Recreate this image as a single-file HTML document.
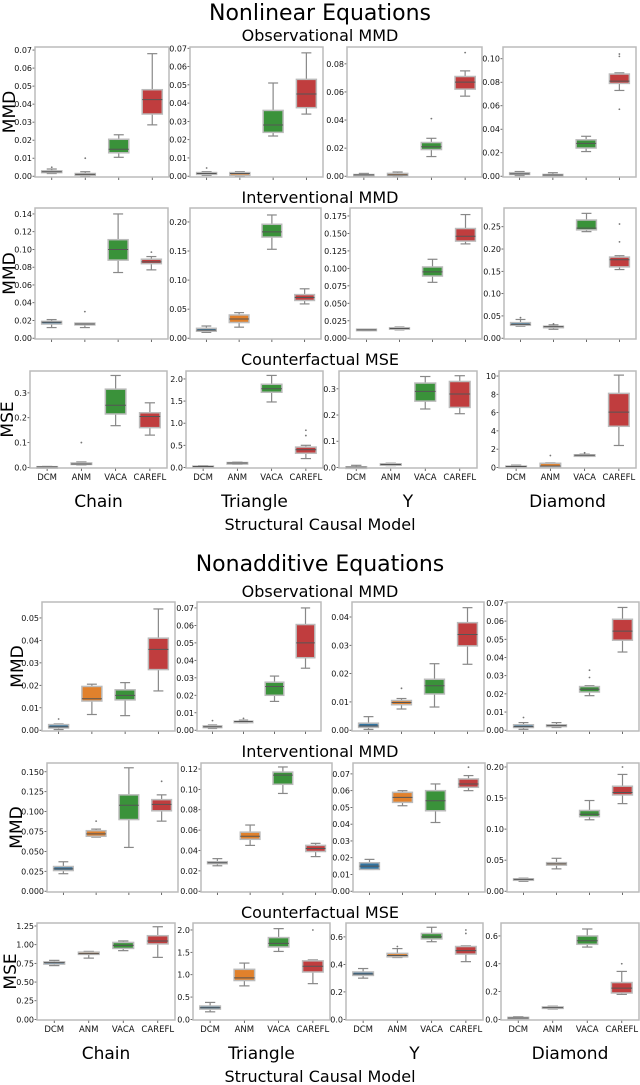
<!DOCTYPE html>
<html><head><meta charset="utf-8">
<style>
html,body{margin:0;padding:0;background:#fff;}
svg{display:block;font-family:"DejaVu Sans","Liberation Sans",sans-serif;}
</style></head>
<body>
<svg id="fig" width="640" height="1085" viewBox="0 0 640 1085" xmlns="http://www.w3.org/2000/svg">
<text x="320" y="20" font-size="22" text-anchor="middle">Nonlinear Equations</text>
<text x="320" y="41" font-size="16" text-anchor="middle">Observational MMD</text>
<text x="320" y="203" font-size="16" text-anchor="middle">Interventional MMD</text>
<text x="320" y="365" font-size="16" text-anchor="middle">Counterfactual MSE</text>
<text x="320" y="571" font-size="22" text-anchor="middle">Nonadditive Equations</text>
<text x="320" y="597" font-size="16" text-anchor="middle">Observational MMD</text>
<text x="320" y="757" font-size="16" text-anchor="middle">Interventional MMD</text>
<text x="320" y="918" font-size="16" text-anchor="middle">Counterfactual MSE</text>
<text x="320" y="530" font-size="16" text-anchor="middle">Structural Causal Model</text>
<text x="320" y="1082" font-size="16" text-anchor="middle">Structural Causal Model</text>
</svg>
<script>
const categories = ["DCM","ANM","VACA","CAREFL"];
const models = ["Chain","Triangle","Y","Diamond"];
const q1s = [
[0.002,0.0005,0.013,0.0345],[0.001,0.0005,0.024,0.0375],[0.0005,0.0005,0.019,0.062],[0.0015,0.0005,0.024,0.079],
[0.016,0.015,0.088,0.084],[0.012,0.027,0.174,0.065],[0.011,0.013,0.089,0.139],[0.029,0.025,0.243,0.16],
[0.001,0.012,0.215,0.16],[0.01,0.08,1.7,0.32],[0,0.009,0.253,0.229],[0.05,0.05,1.28,4.5],
[0.001,0.013,0.0135,0.027],[0.0015,0.0045,0.02,0.0415],[0.001,0.009,0.0128,0.0298],[0.0015,0.002,0.021,0.0495],
[0.026,0.069,0.09,0.101],[0.027,0.051,0.105,0.039],[0.013,0.053,0.048,0.062],[0.018,0.042,0.12,0.155],
[0.74,0.87,0.95,1.01],[0.23,0.87,1.62,1.06],[0.32,0.455,0.585,0.475],[0.005,0.08,0.54,0.19]];
const medians = [
[0.0025,0.001,0.015,0.0425],[0.0015,0.0015,0.028,0.045],[0.001,0.001,0.021,0.067],[0.002,0.001,0.028,0.081],
[0.018,0.016,0.1,0.086],[0.014,0.033,0.183,0.07],[0.012,0.014,0.095,0.146],[0.031,0.026,0.247,0.176],
[0.002,0.014,0.25,0.205],[0.02,0.1,1.78,0.4],[0.001,0.011,0.29,0.28],[0.1,0.15,1.33,6.05],
[0.0015,0.014,0.0155,0.036],[0.002,0.005,0.025,0.05],[0.0015,0.0098,0.0157,0.0338],[0.002,0.0025,0.0225,0.0545],
[0.028,0.072,0.108,0.109],[0.028,0.054,0.114,0.042],[0.015,0.056,0.054,0.064],[0.019,0.044,0.124,0.159],
[0.76,0.88,0.99,1.05],[0.26,0.93,1.7,1.19],[0.33,0.465,0.6,0.5],[0.01,0.085,0.565,0.225]];
const q3s = [
[0.003,0.0015,0.0205,0.048],[0.002,0.002,0.036,0.053],[0.0012,0.002,0.024,0.071],[0.003,0.0015,0.031,0.087],
[0.019,0.017,0.111,0.089],[0.017,0.04,0.196,0.075],[0.013,0.015,0.102,0.157],[0.035,0.027,0.265,0.182],
[0.003,0.018,0.315,0.22],[0.03,0.11,1.88,0.46],[0.002,0.014,0.322,0.328],[0.15,0.45,1.38,8.1],
[0.0025,0.0195,0.018,0.041],[0.0025,0.0052,0.0275,0.0605],[0.0025,0.0105,0.018,0.038],[0.003,0.003,0.024,0.061],
[0.031,0.076,0.121,0.115],[0.029,0.058,0.117,0.045],[0.017,0.059,0.06,0.067],[0.02,0.046,0.13,0.169],
[0.77,0.9,1.03,1.12],[0.3,1.12,1.83,1.31],[0.345,0.48,0.625,0.53],[0.015,0.09,0.6,0.265]];
const whiskLo = [
[0.0015,0,0.0105,0.0285],[0.0005,0,0.022,0.034],[0,0,0.014,0.057],[0.0005,0,0.021,0.073],
[0.012,0.012,0.074,0.077],[0.01,0.019,0.153,0.059],[0.011,0.012,0.08,0.135],[0.027,0.02,0.239,0.154],
[0,0.01,0.168,0.13],[0,0.07,1.48,0.2],[0,0.007,0.223,0.205],[0,0,1.2,2.4],
[0.0003,0.007,0.0065,0.0175],[0.001,0.0042,0.0165,0.0355],[0.0003,0.0075,0.0082,0.0233],[0.0005,0.0015,0.019,0.043],
[0.022,0.068,0.055,0.088],[0.025,0.045,0.096,0.034],[0.013,0.051,0.041,0.06],[0.016,0.036,0.115,0.141],
[0.72,0.82,0.92,0.83],[0.17,0.75,1.52,0.8],[0.3,0.45,0.565,0.42],[0,0.075,0.52,0.18]];
const whiskHi = [
[0.004,0.0025,0.023,0.068],[0.0025,0.0025,0.051,0.0675],[0.002,0.003,0.027,0.075],[0.004,0.003,0.034,0.088],
[0.021,0.017,0.14,0.092],[0.021,0.044,0.212,0.085],[0.013,0.016,0.113,0.177],[0.042,0.03,0.28,0.185],
[0.004,0.022,0.37,0.26],[0.04,0.12,2.08,0.5],[0.008,0.016,0.347,0.35],[0.25,0.5,1.45,10.1],
[0.0028,0.0205,0.0212,0.054],[0.003,0.0058,0.031,0.07],[0.0048,0.0112,0.0235,0.0433],[0.0042,0.0042,0.0245,0.0675],
[0.037,0.078,0.155,0.121],[0.032,0.065,0.122,0.047],[0.019,0.06,0.064,0.069],[0.021,0.053,0.146,0.188],
[0.79,0.91,1.05,1.24],[0.38,1.26,2.03,1.33],[0.37,0.515,0.67,0.535],[0.02,0.095,0.65,0.345]];
const outliers = [
[[0.005],[0.01],[],[]],[[0.0045],[],[],[]],[[],[],[0.041],[0.088]],[[],[],[],[0.102,0.104,0.057]],
[[],[0.03],[],[0.097]],[[],[],[],[]],[[],[],[],[]],[[0.046],[0.032],[],[0.216,0.256]],
[[],[0.1],[],[]],[[],[],[],[0.72,0.84]],[[],[],[],[]],[[],[1.3],[1.6],[]],
[[0.005],[],[],[]],[[0.0055],[0.0068],[],[]],[[],[0.0148],[],[]],[[0.007],[],[0.029,0.033],[]],
[[],[0.088],[],[0.138]],[[],[],[],[]],[[],[],[],[0.074]],[[],[],[],[0.2]],
[[],[],[],[]],[[],[],[],[2.0]],[[],[0.53],[],[0.625,0.65]],[[],[],[],[0.4]]];
const yMax = [0.0717,0.0707,0.092,0.110, 0.1467,0.224,0.1864,0.292, 0.388,2.18,0.368,10.55,
  0.0571,0.0734,0.0453,0.0705, 0.161,0.1259,0.0765,0.2064, 1.29,2.156,0.701,0.693];
const tickStep = [0.01,0.01,0.02,0.02, 0.02,0.05,0.025,0.05, 0.1,0.5,0.1,2,
  0.01,0.01,0.01,0.01, 0.025,0.02,0.01,0.05, 0.25,0.5,0.2,0.2];
const tickDecimals = [2,2,2,2, 2,2,3,2, 1,1,1,0, 2,2,2,2, 3,2,2,2, 2,1,1,1];
const yLabels = ["MMD","MMD","MSE","MMD","MMD","MSE"];

// layout (not data)
const rowTop = [47,208,371,602,763,923];
const rowBot = [177,339,468,731,892,1020];
const panelL = [[35,190,347,503],[35,190,350,504],[30,186,339,499],[42,197,352,507],[47,201,353,507],[37,193,346,501]];
const panelR = [[169,323,482,636],[168,321,482,636],[167,323,477,636],[175,321,484,639],[178,332,485,639],[175,330,483,639]];
const ylabX = [15,15,13,23,22,16];
const colors = ["#3274a1","#e1812c","#3a923a","#c03d3e"];
const NS = "http://www.w3.org/2000/svg";
const svg = document.getElementById('fig');
function mk(tag, attrs, parent){
  const e = document.createElementNS(NS, tag);
  for (const k in attrs) e.setAttribute(k, attrs[k]);
  (parent||svg).appendChild(e);
  return e;
}
for (let r=0;r<6;r++){
  const cy = (rowTop[r]+rowBot[r])/2;
  const yl = mk('text',{x:ylabX[r],y:cy,'font-size':17,'text-anchor':'middle',transform:`rotate(-90 ${ylabX[r]} ${cy})`});
  
  
  yl.textContent = yLabels[r];
  for (let c=0;c<4;c++){
    const p = r*4+c;
    const L=panelL[r][c], R=panelR[r][c], T=rowTop[r], B=rowBot[r];
    const ymin = -0.006*yMax[p];
    const ys = v => B - (v - ymin)/(yMax[p]-ymin)*(B-T);
    const slot = (R-L)/4;
    const xs = i => L + slot*(i+0.5);
    const g = mk('g',{});
    
    
    const n = Math.floor(yMax[p]/tickStep[p]+1e-6);
    for (let k=0;k<=n;k++){
      const v = k*tickStep[p];
      const y = ys(v);
      mk('line',{x1:L-2.5,x2:L,y1:y,y2:y,stroke:'#444','stroke-width':0.8},g);
      const t = mk('text',{x:L-3,y:y+3,'font-size':8,'text-anchor':'end',fill:'#111'},g);
      
      
      t.textContent = v.toFixed(tickDecimals[p]);
    }
    for (let i=0;i<4;i++){
      const x = xs(i);
      mk('line',{x1:x,x2:x,y1:B,y2:B+3,stroke:'#444','stroke-width':0.8},g);
      if (r===2||r===5){
        const t = mk('text',{x:x,y:B+12,'font-size':8.5,'text-anchor':'middle',fill:'#111'},g);
        
        
        t.textContent = categories[i];
      }
      const bw = slot*0.6;
      const wl = mk('line',{x1:x,x2:x,y1:ys(whiskLo[p][i]),y2:ys(q1s[p][i]),stroke:'#888','stroke-width':1.2},g);
      
      
      const wh = mk('line',{x1:x,x2:x,y1:ys(q3s[p][i]),y2:ys(whiskHi[p][i]),stroke:'#888','stroke-width':1.2},g);
      
      
      mk('line',{x1:x-bw/4,x2:x+bw/4,y1:ys(whiskLo[p][i]),y2:ys(whiskLo[p][i]),stroke:'#888','stroke-width':1.2},g);
      mk('line',{x1:x-bw/4,x2:x+bw/4,y1:ys(whiskHi[p][i]),y2:ys(whiskHi[p][i]),stroke:'#888','stroke-width':1.2},g);
      const yq3 = ys(q3s[p][i]), yq1 = ys(q1s[p][i]);
      const box = mk('rect',{x:x-bw/2,y:yq3,width:bw,height:Math.max(yq1-yq3,1.5),fill:colors[i],stroke:'#bbb','stroke-width':1.5},g);
      
      
      mk('line',{x1:x-bw/2,x2:x+bw/2,y1:ys(medians[p][i]),y2:ys(medians[p][i]),stroke:'#555','stroke-width':1},g);
      for (const o of outliers[p][i]){
        const d = mk('circle',{cx:x,cy:ys(o),r:0.9,fill:'#777'},g);
        
        
      }
    }
    mk('rect',{x:L,y:T,width:R-L,height:B-T,fill:'none',stroke:'#bbb','stroke-width':1.5},g);
    if (r===2||r===5){
      const mt = mk('text',{x:(L+R)/2,y:B+39,'font-size':17,'text-anchor':'middle'});
      
      
      mt.textContent = models[c];
    }
  }
}
</script>
</body></html>
